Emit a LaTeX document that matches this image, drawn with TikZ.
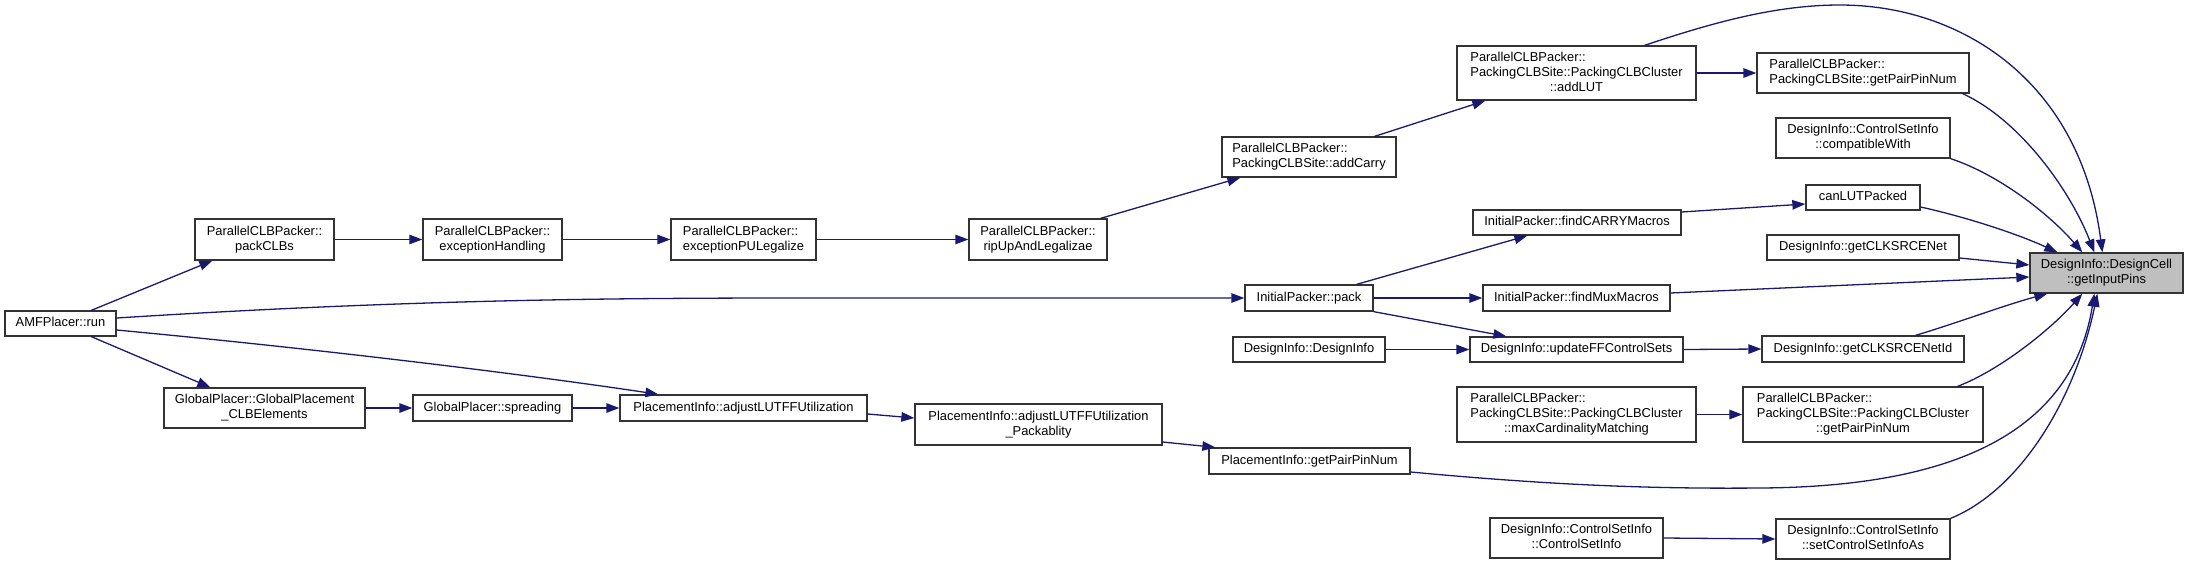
\documentclass[tikz,border=0pt]{standalone}
\usepackage{fontspec}
\setmainfont{Liberation Sans}
\usetikzlibrary{arrows.meta}
\definecolor{edgecol}{RGB}{25,25,112}
\definecolor{hlfill}{RGB}{191,191,191}
\newcommand\mlab[2]{\begin{tabular}{@{}l@{}}#1\\\multicolumn{1}{@{}c@{}}{#2}\end{tabular}}
\newcommand\slab[1]{\begin{tabular}{@{}c@{}}#1\end{tabular}}
\newcommand\bx[7][]{%
  \pgfmathsetmacro\bxw{#5-#3}\pgfmathsetmacro\bxh{#6-#4}%
  \pgfmathsetmacro\bxcx{(#3+#5)/2}\pgfmathsetmacro\bxcy{(#4+#6)/2}%
  \node[nbox,#1,minimum width=\bxw pt,minimum height=\bxh pt] (#2) at (\bxcx,\bxcy) {#7};}
\begin{document}
\begin{tikzpicture}[x=1pt,y=-1pt,
  nbox/.style={draw=black!80,line width=1.3pt,rectangle,inner sep=0pt,fill=white,
    font=\fontsize{12.9}{15}\selectfont},
  edge/.style={draw=edgecol,line width=1.3pt,-{Triangle[length=13pt,width=9.5pt]}}]
\useasboundingbox (0,0) rectangle (2188,565);
% nodes
\bx{run}{5}{311}{116}{336}{\slab{AMFPlacer::run}}
\bx{packCLBs}{195}{219}{334}{260}{\mlab{ParallelCLBPacker::}{packCLBs}}
\bx{excH}{423}{219}{562}{260}{\mlab{ParallelCLBPacker::}{exceptionHandling}}
\bx{excPU}{671}{219}{816}{260}{\mlab{ParallelCLBPacker::}{exceptionPULegalize}}
\bx{ripUp}{969}{219}{1107}{260}{\mlab{ParallelCLBPacker::}{ripUpAndLegalizae}}
\bx{addCarry}{1222}{137}{1396}{177}{\mlab{ParallelCLBPacker::}{PackingCLBSite::addCarry}}
\bx{addLUT}{1457}{46}{1696}{100}{\mlab{ParallelCLBPacker::\\PackingCLBSite::PackingCLBCluster}{::addLUT}}
\bx{gpCLB}{164}{388}{365}{428}{\mlab{GlobalPlacer::GlobalPlacement}{\_CLBElements}}
\bx{spread}{413}{395}{572}{421}{\slab{GlobalPlacer::spreading}}
\bx{adjLUT}{620}{395}{867}{421}{\slab{PlacementInfo::adjustLUTFFUtilization}}
\bx{adjPack}{915}{404}{1162}{445}{\mlab{PlacementInfo::adjustLUTFFUtilization}{\_Packablity}}
\bx{piPair}{1209}{448}{1410}{474}{\slab{PlacementInfo::getPairPinNum}}
\bx{pack}{1245}{285}{1373}{311}{\slab{InitialPacker::pack}}
\bx{findCarry}{1473}{210}{1681}{235}{\slab{InitialPacker::findCARRYMacros}}
\bx{findMux}{1483}{285}{1670}{311}{\slab{InitialPacker::findMuxMacros}}
\bx{diDI}{1233}{337}{1385}{362}{\slab{DesignInfo::DesignInfo}}
\bx{updFF}{1470}{337}{1683}{362}{\slab{DesignInfo::updateFFControlSets}}
\bx{maxCard}{1457}{387}{1696}{442}{\mlab{ParallelCLBPacker::\\PackingCLBSite::PackingCLBCluster}{::maxCardinalityMatching}}
\bx{csiCtor}{1490}{518}{1663}{558}{\mlab{DesignInfo::ControlSetInfo}{::ControlSetInfo}}
\bx{pcsPair}{1757}{53}{1969}{93}{\mlab{ParallelCLBPacker::}{PackingCLBSite::getPairPinNum}}
\bx{compat}{1776}{118}{1950}{158}{\mlab{DesignInfo::ControlSetInfo}{::compatibleWith}}
\bx{canLUT}{1806}{185}{1920}{210}{\slab{canLUTPacked}}
\bx{clkNet}{1767}{235}{1959}{260}{\slab{DesignInfo::getCLKSRCENet}}
\bx[fill=hlfill]{gip}{2030}{253}{2183}{293}{\mlab{DesignInfo::DesignCell}{::getInputPins}}
\bx{clkNetId}{1762}{336}{1964}{362}{\slab{DesignInfo::getCLKSRCENetId}}
\bx{pccPair}{1743}{387}{1983}{442}{\mlab{ParallelCLBPacker::\\PackingCLBSite::PackingCLBCluster}{::getPairPinNum}}
\bx{setAs}{1776}{519}{1950}{559}{\mlab{DesignInfo::ControlSetInfo}{::setControlSetInfoAs}}
% edges
\draw[edge] ([xshift=87pt]run.north west) -- ([xshift=18pt]packCLBs.south west);
\draw[edge] ([yshift=5.5pt]run.east) .. controls (400,300) and (600,298) .. (800,298) -- (pack.west);
\draw[edge] ([yshift=-6.5pt]run.east) .. controls (350,352) and (550,378) .. ([xshift=39pt]adjLUT.north west);
\draw[edge] ([xshift=87pt]run.south west) -- ([xshift=47pt]gpCLB.north west);
\draw[edge] (packCLBs.east) -- (excH.west);
\draw[edge] (excH.east) -- (excPU.west);
\draw[edge] (excPU.east) -- (ripUp.west);
\draw[edge] ([xshift=-7pt]ripUp.north east) -- ([xshift=19pt]addCarry.south west);
\draw[edge] ([xshift=-22pt]addCarry.north east) -- ([xshift=29pt]addLUT.south west);
\draw[edge] ([xshift=-52pt]addLUT.north east) .. controls (1720,20) and (1780,5) .. (1840,5)
  .. controls (1960,5) and (2080,80) .. ([xshift=73pt]gip.north west);
\draw[edge] (addLUT.east) -- (pcsPair.west);
\draw[edge] ([xshift=-7pt]pcsPair.south east) .. controls (2020,120) and (2070,190) .. ([xshift=65pt]gip.north west);
\draw[edge] (compat.south east) .. controls (2000,175) and (2050,215) .. ([xshift=53pt]gip.north west);
\draw[edge] ([yshift=10.5pt]findCarry.east) -- ([yshift=-6.5pt]canLUT.west);
\draw[edge] ([yshift=-9.5pt]canLUT.east) .. controls (1970,218) and (2020,235) .. ([xshift=28pt]gip.north west);
\draw[edge] ([yshift=-10.5pt]clkNet.east) -- ([yshift=8pt]gip.west);
\draw[edge] ([yshift=5pt]findMux.east) -- ([yshift=-4pt]gip.west);
\draw[edge] ([xshift=-17pt]pack.north east) -- ([xshift=55pt]findCarry.south west);
\draw[edge] (pack.east) -- (findMux.west);
\draw[edge] (pack.south east) -- ([xshift=37pt]updFF.north west);
\draw[edge] (diDI.east) -- (updFF.west);
\draw[edge] (updFF.east) -- (clkNetId.west);
\draw[edge] ([xshift=-49pt]clkNetId.north east) .. controls (1960,322) and (2005,305) .. ([xshift=18pt]gip.south west);
\draw[edge] (maxCard.east) -- (pccPair.west);
\draw[edge] ([xshift=-26pt]pccPair.north east) .. controls (2000,370) and (2050,330) .. ([xshift=53pt]gip.south west);
\draw[edge] ([yshift=-11pt]piPair.east) .. controls (1550,485) and (1650,489) .. (1760,488)
  .. controls (1930,487) and (2070,445) .. ([xshift=65pt]gip.south west);
\draw[edge] (csiCtor.east) -- (setAs.west);
\draw[edge] (setAs.north east) .. controls (2020,490) and (2075,400) .. ([xshift=68pt]gip.south west);
\draw[edge] (gpCLB.east) -- (spread.west);
\draw[edge] (spread.east) -- (adjLUT.west);
\draw[edge] ([yshift=-6pt]adjLUT.east) -- ([yshift=6.5pt]adjPack.west);
\draw[edge] ([yshift=-17.5pt]adjPack.east) -- ([xshift=7pt]piPair.north west);
\end{tikzpicture}
\end{document}
